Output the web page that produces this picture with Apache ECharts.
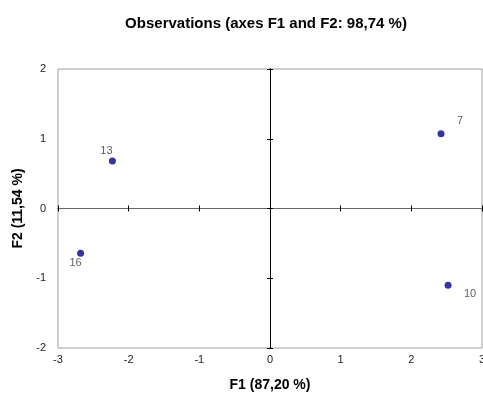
<!DOCTYPE html>
<html>
<head>
<meta charset="utf-8">
<script src="https://cdn.jsdelivr.net/npm/echarts@6/dist/echarts.min.js"></script>
<style>
  html, body { margin: 0; padding: 0; background: #fff; }
  #chart { width: 483px; height: 398px; }
</style>
</head>
<body>
<div id="chart"></div>
<script>
// Observation names and their coordinates on the first two factors
const observations = ['13', '7', '10', '16'];
const f1Values = [-2.23, 2.42, 2.52, -2.68];
const f2Values = [0.68, 1.07, -1.10, -0.64];
// Where each name sits relative to its point
const labelOffsets = [[-6, -10], [19, -13], [22, 9], [-5, 10]];

const titleText = 'Observations (axes F1 and F2: 98,74 %)';
const xTitle = 'F1 (87,20 %)';
const yTitle = 'F2 (11,54 %)';
const xRange = [-3, 3];
const yRange = [-2, 2];

const FONT = '"Liberation Sans", Arial, sans-serif';

const points = observations.map((name, i) => ({
  name: name,
  value: [f1Values[i], f2Values[i]],
  label: { offset: labelOffsets[i] }
}));

// Zero-line axis (no labels), ticks on one side
function zeroX(inside, color) {
  return {
    type: 'value', min: xRange[0], max: xRange[1], interval: 1,
    axisLine: { show: true, onZero: true, onZeroAxisIndex: 0, lineStyle: { color: color, width: 1 } },
    axisTick: { show: true, inside: inside, length: 3, lineStyle: { color: '#000' } },
    axisLabel: { show: false }, splitLine: { show: false }
  };
}
function zeroY(inside, color) {
  return {
    type: 'value', min: yRange[0], max: yRange[1], interval: 1,
    axisLine: { show: true, onZero: true, onZeroAxisIndex: 0, lineStyle: { color: color, width: 1 } },
    axisTick: { show: true, inside: inside, length: 3, lineStyle: { color: '#000' } },
    axisLabel: { show: false }, splitLine: { show: false }
  };
}

const chart = echarts.init(document.getElementById('chart'), null, { renderer: 'canvas' });
chart.setOption({
  animation: false,
  backgroundColor: '#fff',
  title: {
    text: titleText,
    left: 261, textAlign: 'center', top: 11,
    textStyle: { fontFamily: FONT, fontSize: 15, fontWeight: 'bold', color: '#000' }
  },
  grid: {
    left: 58, right: 1, top: 69, bottom: 50,
    outerBoundsMode: 'none', containLabel: false,
    show: true, borderColor: '#a0a0a0', borderWidth: 1, backgroundColor: '#fff'
  },
  xAxis: [
    {
      type: 'value', min: xRange[0], max: xRange[1], interval: 1, position: 'bottom',
      name: xTitle, nameLocation: 'middle', nameGap: 30,
      nameTextStyle: { fontFamily: FONT, fontSize: 14, fontWeight: 'bold', color: '#000' },
      axisLine: { show: false, onZero: false }, axisTick: { show: false },
      axisLabel: { fontFamily: FONT, fontSize: 11, color: '#222', margin: 6 },
      splitLine: { show: false }
    },
    zeroX(true, '#666'),
    zeroX(false, '#666')
  ],
  yAxis: [
    {
      type: 'value', min: yRange[0], max: yRange[1], interval: 1, position: 'left',
      name: yTitle, nameLocation: 'middle', nameGap: 32, nameRotate: 90,
      nameTextStyle: { fontFamily: FONT, fontSize: 14, fontWeight: 'bold', color: '#000' },
      axisLine: { show: false, onZero: false }, axisTick: { show: false },
      axisLabel: { fontFamily: FONT, fontSize: 11, color: '#222', margin: 12 },
      splitLine: { show: false }
    },
    zeroY(true, '#000'),
    zeroY(false, '#000')
  ],
  series: [{
    type: 'scatter',
    xAxisIndex: 0, yAxisIndex: 0,
    symbol: 'circle', symbolSize: 7,
    itemStyle: { color: '#00008b' },
    label: {
      show: true, position: 'inside', align: 'center', verticalAlign: 'middle',
      formatter: p => p.name,
      fontFamily: FONT, fontSize: 11, color: '#333'
    },
    data: points,
    z: 5
  }]
});
</script>
</body>
</html>
